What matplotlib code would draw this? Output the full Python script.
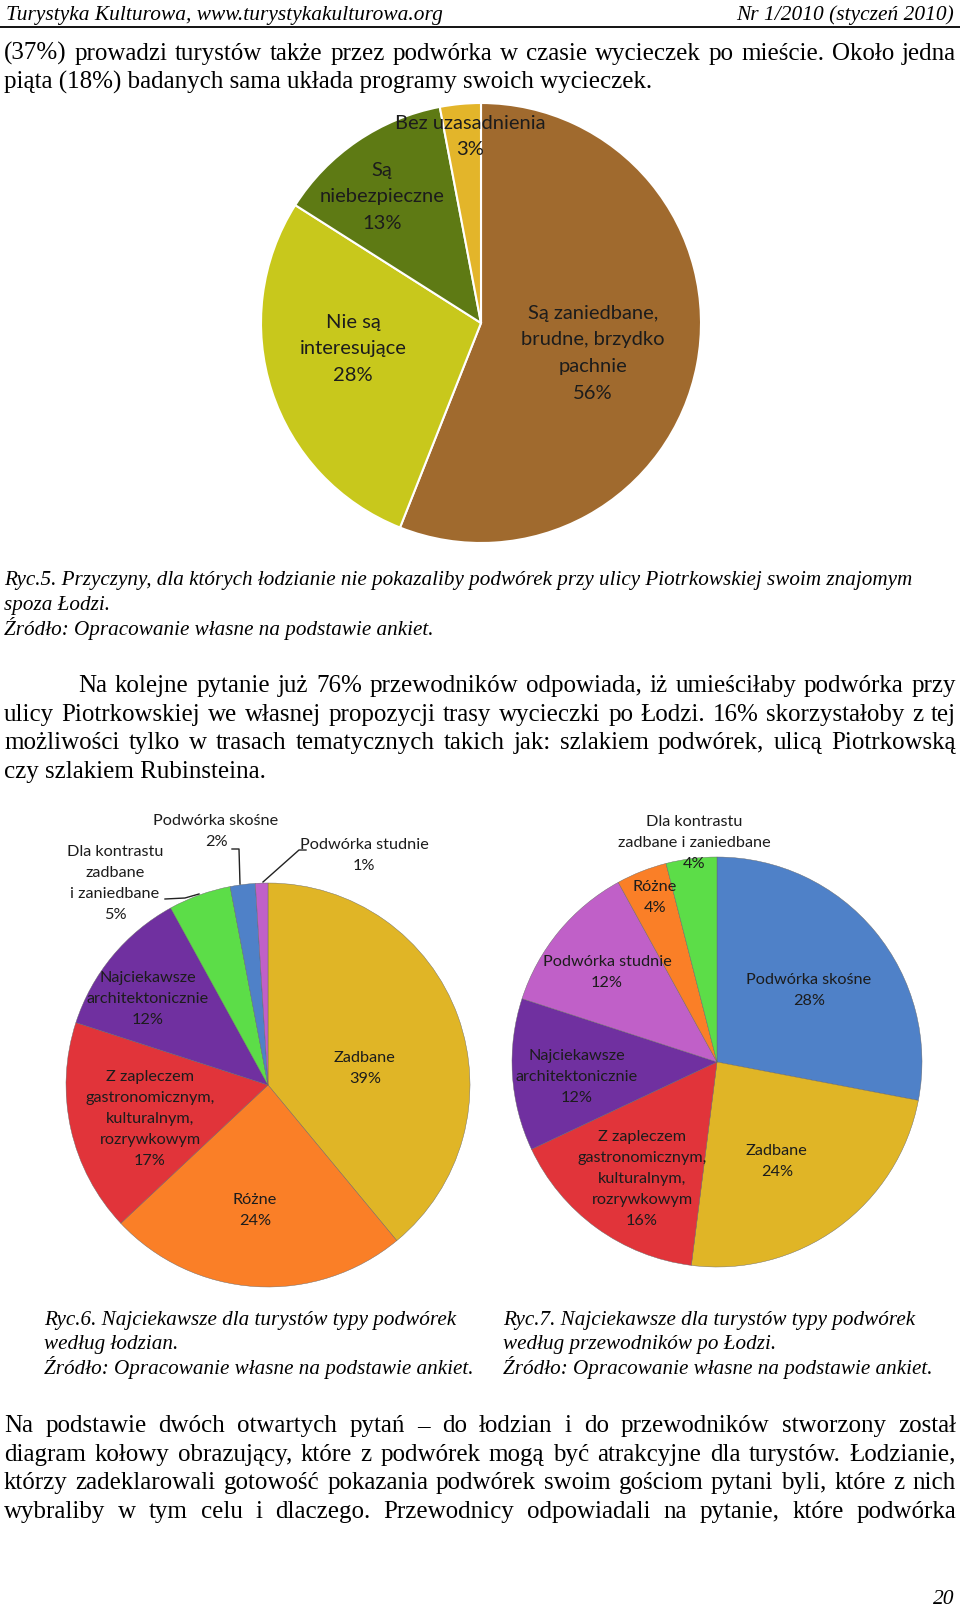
import matplotlib

matplotlib.use("Agg")

import matplotlib.pyplot as plt

W, H = 960, 1609

# Ryc.5 - reasons (Łodzianie)
pie1_labels = [["Są zaniedbane,", "brudne, brzydko", "pachnie"], ["Nie są", "interesujące"],
               ["Są", "niebezpieczne"], ["Bez uzasadnienia"]]
pie1_values = [56, 28, 13, 3]
pie1_colors = ["#A06A2E", "#C8C81C", "#5E7A14", "#E3B52A"]

# Ryc.6 - according to Łodzianie
pie2_labels = [["Zadbane"], ["Różne"], ["Z zapleczem", "gastronomicznym,", "kulturalnym,", "rozrywkowym"],
               ["Najciekawsze", "architektonicznie"], ["Dla kontrastu", "zadbane", "i zaniedbane"],
               ["Podwórka skośne"], ["Podwórka studnie"]]
pie2_values = [39, 24, 17, 12, 5, 2, 1]
pie2_colors = ["#E0B526", "#FA7F27", "#E1343A", "#7030A0", "#5CDD48", "#4F81C8", "#C060C8"]

# Ryc.7 - according to guides
pie3_labels = [["Podwórka skośne"], ["Zadbane"], ["Z zapleczem", "gastronomicznym,", "kulturalnym,", "rozrywkowym"],
               ["Najciekawsze", "architektonicznie"], ["Podwórka studnie"], ["Różne"],
               ["Dla kontrastu", "zadbane i zaniedbane"]]
pie3_values = [28, 24, 16, 12, 12, 4, 4]
pie3_colors = ["#4F81C8", "#E0B526", "#E1343A", "#7030A0", "#C060C8", "#FA7F27", "#5CDD48"]

SERIF = "Liberation Serif"
SANS = "Lato"
DY = 2  # baseline nudge for the serif page text


def pie_axes(fig, cx, cy, r, values, colors, edge):
    ax = fig.add_axes([(cx - r) / W, 1 - (cy + r) / H, 2 * r / W, 2 * r / H])
    ax.pie(values, colors=colors, startangle=90, counterclock=False, radius=1,
           wedgeprops=dict(edgecolor=edge, linewidth=1.5 if edge == "white" else 0.3))
    ax.set_xlim(-1.0, 1.0)
    ax.set_ylim(-1.0, 1.0)
    ax.set_aspect("auto")
    ax.axis("off")
    return ax


def stack(ax, x, y0, step, lines, size):
    for i, line in enumerate(lines):
        ax.text(x, y0 + i * step, line, ha="center", va="center", fontsize=size,
                family=SANS, color="#1c1c1c")


def justify(ax, renderer, text, x0, x1, y, size, **kw):
    words = text.split()
    objs = [ax.text(0, y + DY, w, ha="left", va="baseline", fontsize=size, family=SERIF, **kw) for w in words]
    widths = [o.get_window_extent(renderer).width for o in objs]
    gap = (x1 - x0 - sum(widths)) / max(len(words) - 1, 1)
    x = x0
    for o, w in zip(objs, widths):
        o.set_x(x)
        x += w + gap


def plain(ax, x, y, text, size, italic=False, ha="left"):
    ax.text(x, y + DY, text, ha=ha, va="baseline", fontsize=size, family=SERIF,
            style="italic" if italic else "normal", color="black")


fig = plt.figure(figsize=(W / 100, H / 100), dpi=100)
fig.patch.set_facecolor("white")

pie_axes(fig, 481, 323, 220, pie1_values, pie1_colors, "white")
pie_axes(fig, 268, 1085, 202, pie2_values, pie2_colors, "#666666")
pie_axes(fig, 717, 1062, 205, pie3_values, pie3_colors, "#666666")

page = fig.add_axes([0, 0, 1, 1])
page.set_xlim(0, W)
page.set_ylim(H, 0)
page.axis("off")
page.patch.set_alpha(0)
renderer = fig.canvas.get_renderer()

BODY = 18
CAP = 15.2

# header
plain(page, 6, 18, "Turystyka Kulturowa, www.turystykakulturowa.org", 15.4, italic=True)
plain(page, 954, 18, "Nr 1/2010 (styczeń 2010)", 15.4, italic=True, ha="right")
page.plot([0, W], [27, 27], color="black", lw=1.3)

justify(page, renderer, "(37%) prowadzi turystów także przez podwórka w czasie wycieczek po mieście. Około jedna",
        4, 956, 58, BODY)
plain(page, 4, 87, "piąta (18%) badanych sama układa programy swoich wycieczek.", BODY)

# pie 1 labels
for lines, val, (x, y0) in zip(pie1_labels, pie1_values,
                               [(593, 313), (353, 322), (382, 170), (470, 123)]):
    stack(page, x, y0, 26.8, lines + [f"{val}%"], 14.5)

plain(page, 4, 583, "Ryc.5. Przyczyny, dla których łodzianie nie pokazaliby podwórek przy ulicy Piotrkowskiej swoim znajomym",
      CAP, italic=True)
plain(page, 4, 608, "spoza Łodzi.", CAP, italic=True)
plain(page, 4, 633, "Źródło: Opracowanie własne na podstawie ankiet.", CAP, italic=True)

justify(page, renderer, "Na kolejne pytanie już 76% przewodników odpowiada, iż umieściłaby podwórka przy",
        78, 956, 690, BODY)
justify(page, renderer, "ulicy Piotrkowskiej we własnej propozycji trasy wycieczki po Łodzi. 16% skorzystałoby z tej",
        4, 956, 719, BODY)
justify(page, renderer, "możliwości tylko w trasach tematycznych takich jak: szlakiem podwórek, ulicą Piotrkowską",
        4, 956, 747, BODY)
plain(page, 4, 776, "czy szlakiem Rubinsteina.", BODY)

# pie 2 labels
pos2 = [(365, 1058), (255, 1200), (150, 1077), (148, 978), (115, 852), (216, 821), (364, 845)]
for lines, val, (x, y0) in zip(pie2_labels, pie2_values, pos2):
    stack(page, x, y0, 21, lines + [f"{val}%"], 11.7)
lead = dict(color="#222222", lw=1.0)
page.plot([232, 239, 240], [849, 849, 884], **lead)
page.plot([306, 299, 263], [850, 850, 882], **lead)
page.plot([165, 185, 199], [899, 898, 894], **lead)

# pie 3 labels
pos3 = [(809, 980), (777, 1151), (642, 1137), (577, 1056), (607, 962), (655, 887), (694, 822)]
for lines, val, (x, y0) in zip(pie3_labels, pie3_values, pos3):
    stack(page, x, y0, 21, lines + [f"{val}%"], 11.7)

for x, second in [(44, "według łodzian."), (503, "według przewodników po Łodzi.")]:
    num = "6" if x < 100 else "7"
    plain(page, x, 1323, f"Ryc.{num}. Najciekawsze dla turystów typy podwórek", CAP, italic=True)
    plain(page, x, 1347, second, CAP, italic=True)
    plain(page, x, 1372, "Źródło: Opracowanie własne na podstawie ankiet.", CAP, italic=True)

bottom = [
    "Na podstawie dwóch otwartych pytań – do łodzian i do przewodników stworzony został",
    "diagram kołowy obrazujący, które z podwórek mogą być atrakcyjne dla turystów. Łodzianie,",
    "którzy zadeklarowali gotowość pokazania podwórek swoim gościom pytani byli, które z nich",
    "wybraliby w tym celu i dlaczego. Przewodnicy odpowiadali na pytanie, które podwórka",
]
for i, line in enumerate(bottom):
    justify(page, renderer, line, 4, 956, 1430 + i * 28.7, BODY)

plain(page, 954, 1602, "20", 15.5, italic=True, ha="right")

fig.savefig("out.png", dpi=100)
plt.close(fig)
